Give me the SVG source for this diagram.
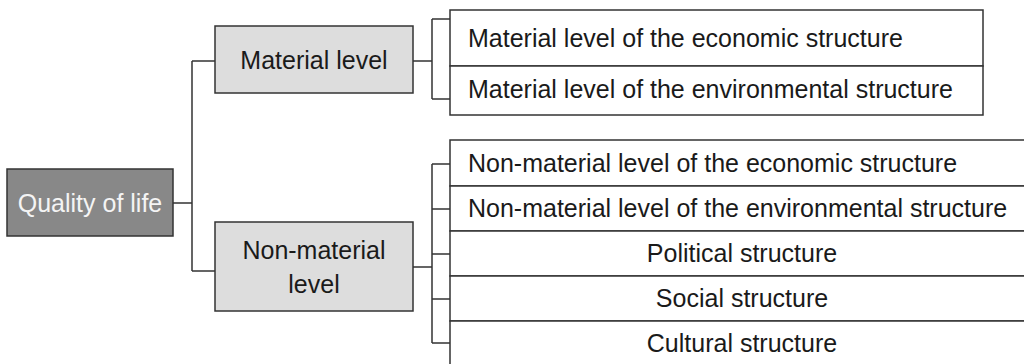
<svg xmlns="http://www.w3.org/2000/svg" width="1024" height="364" viewBox="0 0 1024 364">
<style>
text{font-family:"Liberation Sans",Arial,sans-serif;font-size:25px;fill:#1a1a1a;dominant-baseline:central}
.box{stroke:#333;stroke-width:1.5}
.root{fill:#888}
.mid{fill:#dddddd}
.cell{fill:#fff}
.c{fill:none;stroke:#333;stroke-width:1.5}
.w{fill:#f4f4f4}
</style>
<rect width="1024" height="364" fill="#fff"/>
<g id="connectors">
<path class="c" d="M173 203H192M192 61V271M192 61H215M192 271H215"/>
<path class="c" d="M413 61H432M432 19V99M432 19H450M432 99H450"/>
<path class="c" d="M413 267H432M432 164V343M432 164H450M432 209H450M432 254H450M432 299H450M432 343H450"/>
</g>
<g id="quality">
<rect class="box root" x="7" y="169" width="166" height="67"/>
<text class="w" x="90" y="203" text-anchor="middle">Quality of life</text>
</g>
<g id="material">
<rect class="box mid" x="215" y="26" width="198" height="67"/>
<text x="314" y="60" text-anchor="middle">Material level</text>
</g>
<g id="nonmaterial">
<rect class="box mid" x="215" y="222" width="198" height="89"/>
<text x="314" y="250" text-anchor="middle">Non-material</text>
<text x="314" y="284" text-anchor="middle">level</text>
</g>
<g id="material-econ">
<rect class="box cell" x="450" y="10" width="533" height="56"/>
<text x="468" y="38">Material level of the economic structure</text>
</g>
<g id="material-env">
<rect class="box cell" x="450" y="66" width="533" height="49"/>
<text x="468" y="89">Material level of the environmental structure</text>
</g>
<g id="nonmat-econ">
<rect class="box cell" x="450" y="140" width="590" height="46"/>
<text x="468" y="163">Non-material level of the economic structure</text>
</g>
<g id="nonmat-env">
<rect class="box cell" x="450" y="186" width="590" height="45"/>
<text x="468" y="208">Non-material level of the environmental structure</text>
</g>
<g id="political">
<rect class="box cell" x="450" y="231" width="590" height="45"/>
<text x="742" y="253" text-anchor="middle">Political structure</text>
</g>
<g id="social">
<rect class="box cell" x="450" y="276" width="590" height="45"/>
<text x="742" y="298" text-anchor="middle">Social structure</text>
</g>
<g id="cultural">
<rect class="box cell" x="450" y="321" width="590" height="46"/>
<text x="742" y="343" text-anchor="middle">Cultural structure</text>
</g>
</svg>
